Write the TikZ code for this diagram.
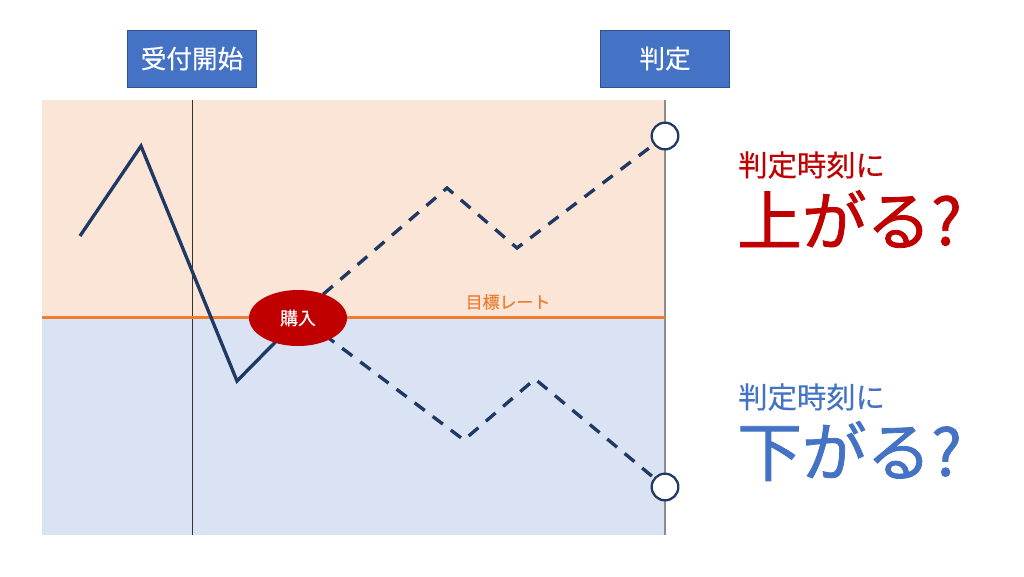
\documentclass[tikz,border=0pt]{standalone}
\usepackage{fontspec}
\usepackage{tikz}
\usetikzlibrary{shapes.geometric, positioning}
\setmainfont{Noto Sans CJK JP}
\newfontfamily\heavyfont[FakeBold=1.2]{Noto Sans CJK JP}
\newfontfamily\midfont[FakeBold=0.4]{Noto Sans CJK JP}
\definecolor{upfill}{HTML}{FBE5D6}
\definecolor{downfill}{HTML}{DAE3F3}
\definecolor{rateline}{HTML}{ED7D31}
\definecolor{navy}{HTML}{1F3864}
\definecolor{boxblue}{HTML}{4472C4}
\definecolor{boxedge}{HTML}{2F528F}
\definecolor{buyred}{HTML}{C00000}

\begin{document}
\begin{tikzpicture}[x=0.75pt, y=-0.75pt,
		timebox/.style = {draw=boxedge, fill=boxblue, text=white, minimum width=97pt, minimum height=42.5pt, inner sep=0pt, font=\midfont\fontsize{19.2}{22}\selectfont},
		buy/.style = {ellipse, fill=buyred, text=white, minimum width=73.5pt, minimum height=42pt, inner sep=0pt, font=\midfont\fontsize{13.4}{16}\selectfont},
		goal/.style = {draw=navy, fill=white, circle, line width=1.7pt, minimum size=20pt, inner sep=0pt},
		price/.style = {draw=navy, line width=2.5pt},
		future/.style = {price, dash pattern=on 9.5pt off 7.5pt},
		small/.style = {inner sep=0pt, anchor=west, font=\midfont\fontsize{22}{26}\selectfont},
		big/.style = {inner sep=0pt, anchor=west, font=\heavyfont\fontsize{48.5}{56}\selectfont}]
		\useasboundingbox (0,0) rectangle (1024,576);
		
		\fill[upfill] (42,100) rectangle (665,318);
		\fill[downfill] (42,318) rectangle (665,535);
		
		\coordinate (top1) at (192,100);
		\coordinate (bottom1) at (192,535);
		\coordinate (top2) at (665,100);
		\coordinate (bottom2) at (665,535);
		\coordinate (left) at (42,317.5);
		\coordinate (right) at (665,317.5);
		\draw[black!80, line width=0.6pt] (top1) -- (bottom1);
		\draw[black!45, line width=1.2pt] (top2) -- (bottom2);
		\draw[rateline, line width=2.4pt] (left) -- (right);
		
		\coordinate (p1) at (80,236);
		\coordinate (p2) at (141,146);
		\coordinate (p3) at (237,381);
		\coordinate (u1) at (447,188);
		\coordinate (u2) at (517,248);
		\coordinate (d1) at (464,440);
		\coordinate (d2) at (535,379);
		\coordinate (ustart) at (306,309);
		\coordinate (dstart) at (306,321);
		\coordinate (bstart) at (298,319);
		
		\node[goal] (up) at (665,136) {};
		\node[goal] (down) at (665,487) {};
		
		\draw[price, line join=miter] (p1) -- (p2) -- (p3) -- (bstart);
		\draw[future] (ustart) -- (u1) -- (u2) -- (up);
		\draw[future] (dstart) -- (d1) -- (d2) -- (down);
		
		\node[buy] (buy1) at (298,318) {購入};
		\node[timebox] (start) at (192,58.5) {受付開始};
		\node[timebox] (judge) at (665,58.5) {判定};
		\node[text=rateline, inner sep=0pt, font=\midfont\fontsize{12.7}{15}\selectfont] (rate) at (508,302) {目標レート};
		
		\node[small, text=buyred] (uplabel) at (738,165) {判定時刻に};
		\node[big, text=buyred] (upword) at (737,219) {上がる?};
		\node[small, text=boxblue] (downlabel) at (738,397) {判定時刻に};
		\node[big, text=boxblue] (downword) at (737,451) {下がる?};
	\end{tikzpicture}
\end{document}
